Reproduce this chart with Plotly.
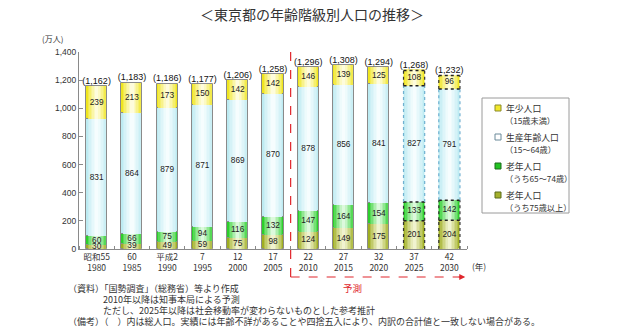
import plotly.graph_objects as go

# ---- data (万人) ----
era_labels = ["昭和55", "60", "平成2", "7", "12", "17", "22", "27", "32", "37", "42"]
year_labels = ["1980", "1985", "1990", "1995", "2000", "2005", "2010", "2015", "2020", "2025", "2030"]
youth = [239, 213, 173, 150, 142, 142, 146, 139, 125, 108, 96]            # 年少人口
working_age = [831, 864, 879, 871, 869, 870, 878, 856, 841, 827, 791]     # 生産年齢人口
elderly_65_74 = [60, 66, 75, 94, 116, 132, 147, 164, 154, 133, 142]       # 老年人口 65～74歳
elderly_75_plus = [30, 39, 49, 59, 75, 98, 124, 149, 175, 201, 204]       # 老年人口 75歳以上
total_pop = [1162, 1183, 1186, 1177, 1206, 1258, 1296, 1308, 1294, 1268, 1232]
reference_estimate = [False] * 9 + [True] * 2                              # 参考推計 (2025, 2030)
forecast_start = 6                                                         # 2010 onward is 予測

legend_names = ["年少人口", "生産年齢人口", "老年人口", "老年人口"]
legend_notes = ["（15歳未満）", "（15～64歳）", "（うち65～74歳）", "（うち75歳以上）"]

# ---- style ----
W, H = 624, 334
ML, MR, MT, MB = 79, 157, 52, 85
PW, PH = W - ML - MR, H - MT - MB
BAR_W = 0.6
FONT = "Liberation Sans, Noto Sans CJK JP, sans-serif"
JFONT = "Noto Sans CJK JP, sans-serif"
TXT = "#333333"
OUTLINE = "#8a8a8a"
RED = "#e0262c"

# edge colour -> centre colour (horizontal sheen on each bar)
seg_colors = {
    "75": ("#9fae22", "#f0f3cf"),
    "65": ("#2ccf2c", "#dcf9dc"),
    "work": ("#bdebf2", "#f6fdfe"),
    "youth": ("#efe51f", "#fefcdc"),
}
legend_fill = ["#f2e82a", "#ffffff", "#22c422", "#a4b02c"]
legend_edge = ["#8a8a2a", "#6a8a9a", "#1a6a1a", "#5a6a1a"]


def px_x(p):
    return (p - ML) / PW


def px_y(p):
    return (H - MB - p) / PH


def mix(c1, c2, t):
    a = [int(c1[i:i + 2], 16) for i in (1, 3, 5)]
    b = [int(c2[i:i + 2], 16) for i in (1, 3, 5)]
    return "#" + "".join(f"{round(a[k] + (b[k] - a[k]) * t):02x}" for k in range(3))


x = list(range(len(year_labels)))
segments = [
    ("75", elderly_75_plus),
    ("65", elderly_65_74),
    ("work", working_age),
    ("youth", youth),
]

fig = go.Figure()

base = [0] * len(x)
bases = {}
for key, vals in segments:
    bases[key] = list(base)
    edge, centre = seg_colors[key]
    n_layers = 7
    for k in range(n_layers):
        t = k / (n_layers - 1)
        width = BAR_W * (1 - 0.85 * t)
        outer = k == 0
        fig.add_trace(go.Bar(
            x=x, y=vals, base=base, width=width,
            marker=dict(
                color=mix(edge, centre, t ** 0.8),
                line=dict(
                    color=[("rgba(0,0,0,0)" if r else OUTLINE) for r in reference_estimate] if outer else "rgba(0,0,0,0)",
                    width=1 if outer else 0,
                ),
            ),
            showlegend=False, hoverinfo="skip",
        ))
    base = [b + v for b, v in zip(base, vals)]

# dotted outlines for the reference estimates
for i in x:
    if not reference_estimate[i]:
        continue
    l, r = i - BAR_W / 2, i + BAR_W / 2
    for key, vals in segments:
        lo = bases[key][i]
        hi = lo + vals[i]
        side_col = "#6fb0d0" if key == "work" else "#333333"
        fig.add_trace(go.Scatter(
            x=[l, l, None, r, r], y=[lo, hi, None, lo, hi], mode="lines",
            line=dict(color=side_col, width=1.2, dash="dot"),
            showlegend=False, hoverinfo="skip",
        ))
        fig.add_trace(go.Scatter(
            x=[l, r], y=[hi, hi], mode="lines",
            line=dict(color="#222222", width=1.5, dash="dot"),
            showlegend=False, hoverinfo="skip",
        ))

# value labels in segment middles
for key, vals in segments:
    mids = [b + v / 2 for b, v in zip(bases[key], vals)]
    fig.add_trace(go.Scatter(
        x=x, y=mids, mode="text", text=[str(v) for v in vals],
        textfont=dict(family=FONT, size=8.3, color="#222222"),
        showlegend=False, hoverinfo="skip",
    ))

# totals above bars
tops = [b for b in base]
fig.add_trace(go.Scatter(
    x=x, y=tops, mode="text", textposition="top center",
    text=[f"({v:,})" for v in total_pop],
    textfont=dict(family=FONT, size=9, color="#111111"),
    showlegend=False, hoverinfo="skip",
))

annotations = []
shapes = []

# title and units
annotations.append(dict(
    x=px_x(312), y=px_y(14), xref="paper", yref="paper", showarrow=False,
    text="＜東京都の年齢階級別人口の推移＞", font=dict(family=JFONT, size=14, color="#333333"),
    xanchor="center", yanchor="middle",
))
annotations.append(dict(
    x=px_x(52), y=px_y(38), xref="paper", yref="paper", showarrow=False,
    text="(万人)", font=dict(family=JFONT, size=8, color=TXT), xanchor="center", yanchor="middle",
))
annotations.append(dict(
    x=px_x(470), y=px_y(266), xref="paper", yref="paper", showarrow=False,
    text="(年)", font=dict(family=JFONT, size=8.5, color=TXT), xanchor="left", yanchor="middle",
))

# forecast marker
fy = px_y(277)
shapes.append(dict(type="line", xref="x", yref="paper", x0=forecast_start - 0.5, x1=forecast_start - 0.5,
                   y0=1.0, y1=fy, line=dict(color=RED, width=1.2, dash="dash")))
shapes.append(dict(type="line", xref="x", yref="paper", x0=forecast_start - 0.5, x1=len(x) - 0.62,
                   y0=fy, y1=fy, line=dict(color=RED, width=1.2, dash="dash")))
annotations.append(dict(
    x=len(x) - 0.55, y=fy, xref="x", yref="paper", ax=-8, ay=0, text="", showarrow=True,
    arrowhead=2, arrowsize=1, arrowwidth=1.2, arrowcolor=RED,
))
annotations.append(dict(
    x=px_x(352), y=px_y(288), xref="paper", yref="paper", showarrow=False,
    text="予測", font=dict(family=JFONT, size=9.5, color=RED), xanchor="center", yanchor="middle",
))

# notes
notes = [
    (66, 288, "（資料）「国勢調査」（総務省）等より作成"),
    (101, 299, "2010年以降は知事本局による予測"),
    (101, 310, "ただし、2025年以降は社会移動率が変わらないものとした参考推計"),
    (66, 321, "（備考）（　）内は総人口。実績には年齢不詳があることや四捨五入により、内訳の合計値と一致しない場合がある。"),
]
for nx, ny, t in notes:
    annotations.append(dict(
        x=px_x(nx), y=px_y(ny), xref="paper", yref="paper", showarrow=False, text=t,
        font=dict(family=JFONT, size=9, color=TXT), xanchor="left", yanchor="middle",
    ))

# legend box
shapes.append(dict(type="rect", xref="paper", yref="paper", x0=px_x(482), x1=px_x(569), y0=px_y(98), y1=px_y(213),
                   line=dict(color="#9a9a9a", width=1), fillcolor="white"))
for k, (name, note) in enumerate(zip(legend_names, legend_notes)):
    ytop = 108 + 29 * k
    shapes.append(dict(type="rect", xref="paper", yref="paper",
                       x0=px_x(495), x1=px_x(501), y0=px_y(ytop - 3), y1=px_y(ytop + 3),
                       line=dict(color=legend_edge[k], width=1), fillcolor=legend_fill[k]))
    annotations.append(dict(
        x=px_x(504), y=px_y(ytop), xref="paper", yref="paper", showarrow=False, text=name,
        font=dict(family=JFONT, size=8.8, color=TXT), xanchor="left", yanchor="middle",
    ))
    annotations.append(dict(
        x=px_x(503), y=px_y(ytop + 11.5), xref="paper", yref="paper", showarrow=False, text=note,
        font=dict(family=JFONT, size=8.2, color=TXT), xanchor="left", yanchor="middle",
    ))

fig.update_layout(
    width=W, height=H, margin=dict(l=ML, r=MR, t=MT, b=MB),
    paper_bgcolor="white", plot_bgcolor="white",
    barmode="overlay", bargap=0, showlegend=False,
    shapes=shapes, annotations=annotations,
    xaxis=dict(
        range=[-0.5, len(x) - 0.5], tickmode="array", tickvals=x,
        ticktext=[f"{a}<br>{b}" for a, b in zip(era_labels, year_labels)],
        tickfont=dict(family=JFONT, size=8.5, color=TXT),
        showline=True, linecolor="#8a8a8a", linewidth=1, ticks="", showgrid=False, zeroline=False,
        minor=dict(tickmode="linear", tick0=-0.5, dtick=1, ticks="inside", ticklen=3, tickcolor="#8a8a8a", showgrid=False),
        fixedrange=True,
    ),
    yaxis=dict(
        range=[0, 1400], dtick=200, tickformat=",", ticks="inside", ticklen=4, tickcolor="#8a8a8a",
        tickfont=dict(family=FONT, size=8.5, color=TXT),
        showline=True, linecolor="#8a8a8a", linewidth=1, showgrid=False, zeroline=False,
        fixedrange=True,
    ),
)

fig.write_html("out.html")
